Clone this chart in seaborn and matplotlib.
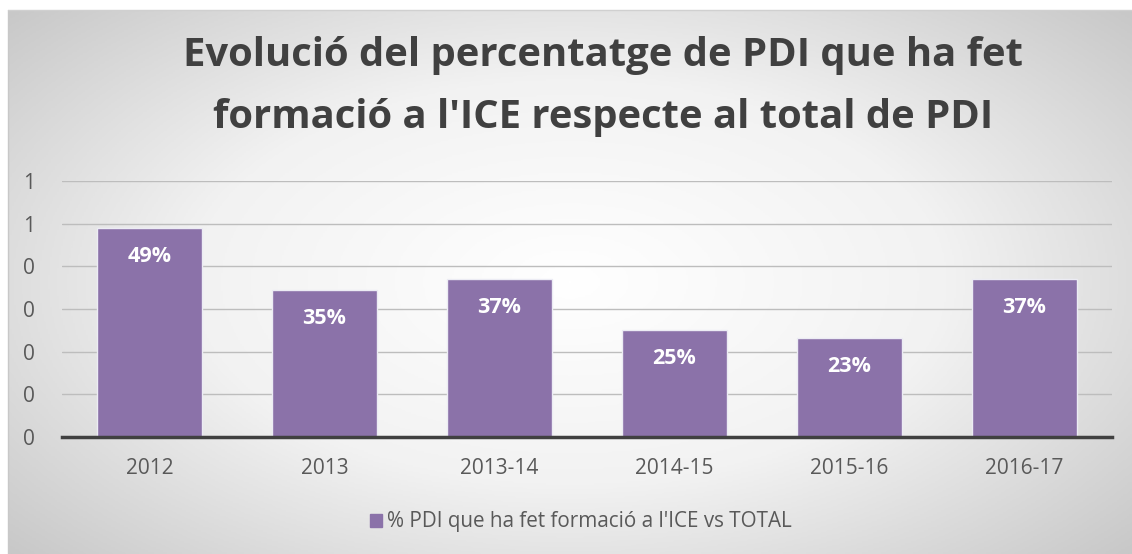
import numpy as np
import matplotlib
matplotlib.use("Agg")
import matplotlib.pyplot as plt
import seaborn as sns

categories = ["2012", "2013", "2013-14", "2014-15", "2015-16", "2016-17"]
values = [0.49, 0.345, 0.37, 0.25, 0.232, 0.37]
bar_labels = ["49%", "35%", "37%", "25%", "23%", "37%"]
yticks = [0.0, 0.1, 0.2, 0.3, 0.4, 0.5, 0.6]
ytick_labels = ["0", "0", "0", "0", "0", "1", "1"]
title = "Evolució del percentatge de PDI que ha fet\nformació a l'ICE respecte al total de PDI"
series_name = "% PDI que ha fet formació a l'ICE vs TOTAL"

BAR = "#8b72a9"
TEXT = "#595959"

sns.set_theme(style="white")
plt.rcParams["font.family"] = ["Open Sans", "DejaVu Sans"]

W, H = 1132, 554
fig = plt.figure(figsize=(W / 100, H / 100), dpi=100)
fig.patch.set_facecolor("white")

# radial gradient background of the chart area
bg = fig.add_axes([8 / W, 0, 1 - 8 / W, 1 - 10 / H], zorder=-10)
yy, xx = np.mgrid[-1:1:300j, -1:1:600j]
r = np.sqrt(xx ** 2 + (yy * 0.9) ** 2) / np.sqrt(1 + 0.81)
bg.imshow(r, cmap=sns.blend_palette(["#ffffff", "#f2f2f2", "#c8c8c8"], as_cmap=True),
          aspect="auto", extent=[0, 1, 0, 1], vmin=0, vmax=1)
bg.set_axis_off()
fig.add_artist(plt.Line2D([8 / W, 8 / W], [0, 1 - 10 / H], color="#c8c8c8", lw=1))
fig.add_artist(plt.Line2D([8 / W, 1], [1 - 10 / H, 1 - 10 / H], color="#d0d0d0", lw=1))

ax = fig.add_axes([62 / W, 1 - 437 / H, (1112 - 62) / W, (437 - 181) / H])
ax.set_facecolor("none")
sns.barplot(x=categories, y=values, color=BAR, width=0.6, edgecolor="#ececf4",
            linewidth=1.0, saturation=1, ax=ax, zorder=3)

for i, (v, lab) in enumerate(zip(values, bar_labels)):
    ax.annotate(lab, (i, v), xytext=(0, -20.5), textcoords="offset points",
                ha="center", va="center", color="white", fontsize=15.5, fontweight="bold",
                zorder=4)

ax.set_ylim(0, 0.6)
ax.set_xlim(-0.5, len(categories) - 0.5)
ax.set_yticks(yticks)
ax.set_yticklabels(ytick_labels)
ax.yaxis.grid(True, color="#bdbdbd", lw=1, zorder=0)
ax.set_axisbelow(True)
for s in ["top", "right", "left"]:
    ax.spines[s].set_visible(False)
ax.spines["bottom"].set_color("#404040")
ax.spines["bottom"].set_linewidth(2.5)
ax.spines["bottom"].set_zorder(5)

ax.set_xticks(np.arange(len(categories)))
ax.set_xticklabels(categories)
ax.set_xticks(np.arange(-0.5, len(categories)), minor=True)
ax.tick_params(axis="x", which="major", length=0, pad=15, labelsize=15, labelcolor=TEXT)
ax.tick_params(axis="x", which="minor", length=5, width=2.5, color="#404040", direction="out")
ax.tick_params(axis="y", length=0, pad=24, labelsize=15, labelcolor=TEXT)
for t in ax.get_yticklabels():
    t.set_horizontalalignment("center")
ax.set_xlabel("")
ax.set_ylabel("")

fig.text(603 / W, 1 - 86.5 / H, title, ha="center", va="center", fontsize=28.8,
         fontweight="bold", color="#404040", linespacing=1.75)

handle = plt.Rectangle((0, 0), 1, 1, color=BAR)
fig.legend([handle], [series_name], loc="center", bbox_to_anchor=(581 / W, 1 - 522 / H),
           frameon=False, fontsize=14.9, labelcolor=TEXT, handlelength=0.6, handleheight=0.6,
           handletextpad=0.25)

fig.savefig("out.png", dpi=100)
